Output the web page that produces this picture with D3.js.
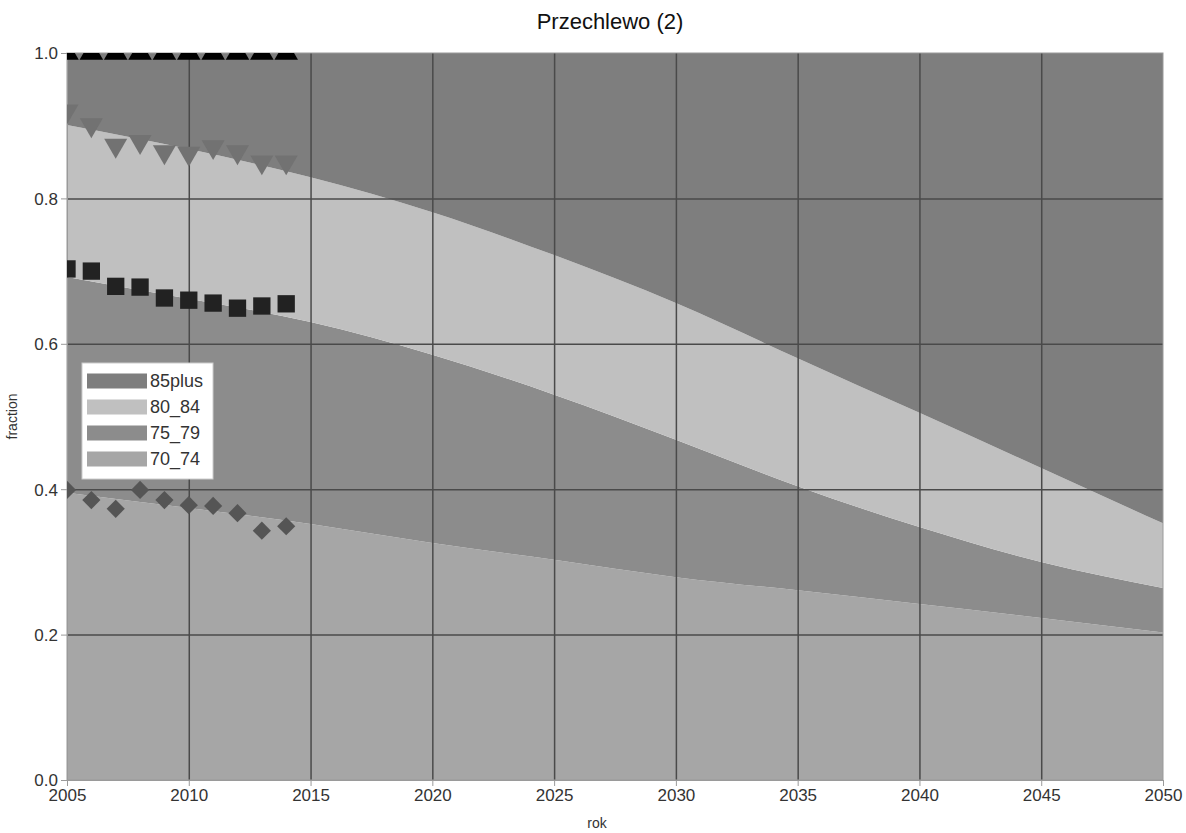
<!DOCTYPE html>
<html>
<head>
<meta charset="utf-8">
<script src="https://cdn.jsdelivr.net/npm/d3@7"></script>
<style>
  body { margin: 0; background: #fff; }
  text { font-family: "Liberation Sans", Arial, sans-serif; }
</style>
</head>
<body>
<div id="plot"></div>
<script>
// projection years (stacked areas)
const years = [2005, 2010, 2015, 2020, 2025, 2030, 2035, 2040, 2045, 2050];
const share70_74  = [0.395, 0.374, 0.352, 0.326, 0.303, 0.279, 0.261, 0.242, 0.223, 0.203];
const share75_79  = [0.297, 0.288, 0.278, 0.259, 0.227, 0.189, 0.143, 0.106, 0.077, 0.061];
const share80_84  = [0.209, 0.206, 0.199, 0.196, 0.192, 0.188, 0.176, 0.157, 0.129, 0.089];
const share85plus = [0.099, 0.132, 0.171, 0.219, 0.278, 0.344, 0.420, 0.495, 0.571, 0.647];

// observed values (cumulative), one per year
const obsYears = [2005, 2006, 2007, 2008, 2009, 2010, 2011, 2012, 2013, 2014];
const obs85plus = [1, 1, 1, 1, 1, 1, 1, 1, 1, 1];
const obs80_84 = [0.92, 0.901, 0.873, 0.878, 0.864, 0.862, 0.871, 0.864, 0.850, 0.850];
const obs75_79 = [0.703, 0.700, 0.679, 0.678, 0.663, 0.660, 0.656, 0.649, 0.652, 0.655];
const obs70_74 = [0.399, 0.385, 0.373, 0.399, 0.385, 0.378, 0.377, 0.367, 0.343, 0.349];

const groups = ["70_74", "75_79", "80_84", "85plus"];
const colors = {"85plus": "#7e7e7e", "80_84": "#c0c0c0", "75_79": "#8c8c8c", "70_74": "#a6a6a6"};

window.addEventListener("load", main);

function main(){
  const width = 1186, height = 833;
  const margin = {left: 67, right: 23, top: 53, bottom: 53};

  let rows = years.map((y, i) => ({
    year: y,
    "70_74": share70_74[i],
    "75_79": share75_79[i],
    "80_84": share80_84[i],
    "85plus": share85plus[i]
  }));

  let series = d3.stack().keys(groups)(rows);

  let x = d3.scaleLinear().domain([2005, 2050]).range([margin.left, width - margin.right]);
  let y = d3.scaleLinear().domain([0, 1]).range([height - margin.bottom, margin.top]);

  let svg = d3.select("#plot").append("svg")
    .attr("width", width)
    .attr("height", height);

  svg.append("clipPath").attr("id", "clip")
    .append("rect")
    .attr("x", margin.left).attr("y", margin.top)
    .attr("width", x(2050) - x(2005)).attr("height", y(0) - y(1));

  let area = d3.area()
    .curve(d3.curveNatural)
    .x(d => x(d.data.year))
    .y0(d => y(d[0]))
    .y1(d => y(d[1]));

  svg.append("g")
    .attr("clip-path", "url(#clip)")
    .selectAll("path")
    .data(series)
    .join("path")
    .attr("d", area)
    .attr("fill", d => colors[d.key]);

  // grid on top of the areas
  let gridX = svg.append("g")
    .attr("transform", "translate(0," + y(0) + ")")
    .call(d3.axisBottom(x).tickValues(d3.range(2010, 2050, 5)).tickSize(-(y(0) - y(1))).tickFormat(""));
  let gridY = svg.append("g")
    .attr("transform", "translate(" + x(2005) + ",0)")
    .call(d3.axisLeft(y).tickValues([0.2, 0.4, 0.6, 0.8]).tickSize(-(x(2050) - x(2005))).tickFormat(""));
  [gridX, gridY].forEach(g => {
    g.select(".domain").remove();
    g.selectAll("line").attr("stroke", "#4a4a4a").attr("stroke-width", 1.5);
  });

  // frame
  svg.append("rect")
    .attr("x", x(2005)).attr("y", y(1))
    .attr("width", x(2050) - x(2005)).attr("height", y(0) - y(1))
    .attr("fill", "none").attr("stroke", "#9a9a9a").attr("stroke-width", 1);

  // axes
  let xAxis = svg.append("g")
    .attr("transform", "translate(0," + y(0) + ")")
    .call(d3.axisBottom(x).ticks(10).tickFormat(d3.format("d")).tickSize(6).tickPadding(3));
  let yAxis = svg.append("g")
    .attr("transform", "translate(" + x(2005) + ",0)")
    .call(d3.axisLeft(y).ticks(5).tickFormat(d3.format(".1f")).tickSize(6).tickPadding(3));
  [xAxis, yAxis].forEach(g => {
    g.select(".domain").attr("stroke", "#9a9a9a");
    g.selectAll("line").attr("stroke", "#9a9a9a");
    g.selectAll("text")
      .attr("fill", "#333")
      .style("font-size", "17px")
      .style("font-family", "'Liberation Sans', Arial, sans-serif");
  });
  yAxis.selectAll("text").attr("dy", "0.35em");

  // observation markers
  let markers = svg.append("g").attr("clip-path", "url(#clip)");
  let obs = [
    {vals: obs85plus, type: d3.symbolTriangle, fill: "#000", size: 240, rot: 0},
    {vals: obs80_84, type: d3.symbolTriangle, fill: "#727272", size: 230, rot: 180},
    {vals: obs75_79, type: d3.symbolSquare, fill: "#222", size: 300, rot: 0},
    {vals: obs70_74, type: d3.symbolSquare, fill: "#555", size: 165, rot: 45}
  ];
  obs.forEach(o => {
    markers.append("g")
      .selectAll("path")
      .data(obsYears.map((yr, i) => [yr, o.vals[i]]))
      .join("path")
      .attr("d", d3.symbol().type(o.type).size(o.size))
      .attr("fill", o.fill)
      .attr("transform", d => "translate(" + x(d[0]) + "," + y(d[1]) + ") rotate(" + o.rot + ")");
  });

  // legend
  let legend = svg.append("g").attr("transform", "translate(82,363)");
  legend.append("rect")
    .attr("width", 131).attr("height", 116)
    .attr("fill", "#fff").attr("stroke", "#ccc");
  let legendKeys = ["85plus", "80_84", "75_79", "70_74"];
  let item = legend.selectAll("g.item")
    .data(legendKeys)
    .join("g")
    .attr("class", "item")
    .attr("transform", (d, i) => "translate(5," + (18 + i * 26) + ")");
  item.append("rect")
    .attr("y", -7.5).attr("width", 60).attr("height", 15)
    .attr("fill", d => colors[d]);
  item.append("text")
    .attr("x", 63).attr("dy", "0.35em")
    .attr("fill", "#333")
    .style("font-size", "18px")
    .text(d => d);

  // titles
  svg.append("text")
    .attr("x", 610).attr("y", 29)
    .attr("text-anchor", "middle")
    .attr("fill", "#111")
    .style("font-size", "22px")
    .text("Przechlewo (2)");
  svg.append("text")
    .attr("x", 597).attr("y", 828)
    .attr("text-anchor", "middle")
    .attr("fill", "#333")
    .style("font-size", "14px")
    .text("rok");
  svg.append("text")
    .attr("transform", "translate(17," + ((y(0) + y(1)) / 2) + ") rotate(-90)")
    .attr("text-anchor", "middle")
    .attr("fill", "#333")
    .style("font-size", "14px")
    .text("fraction");
}
</script>
</body>
</html>
